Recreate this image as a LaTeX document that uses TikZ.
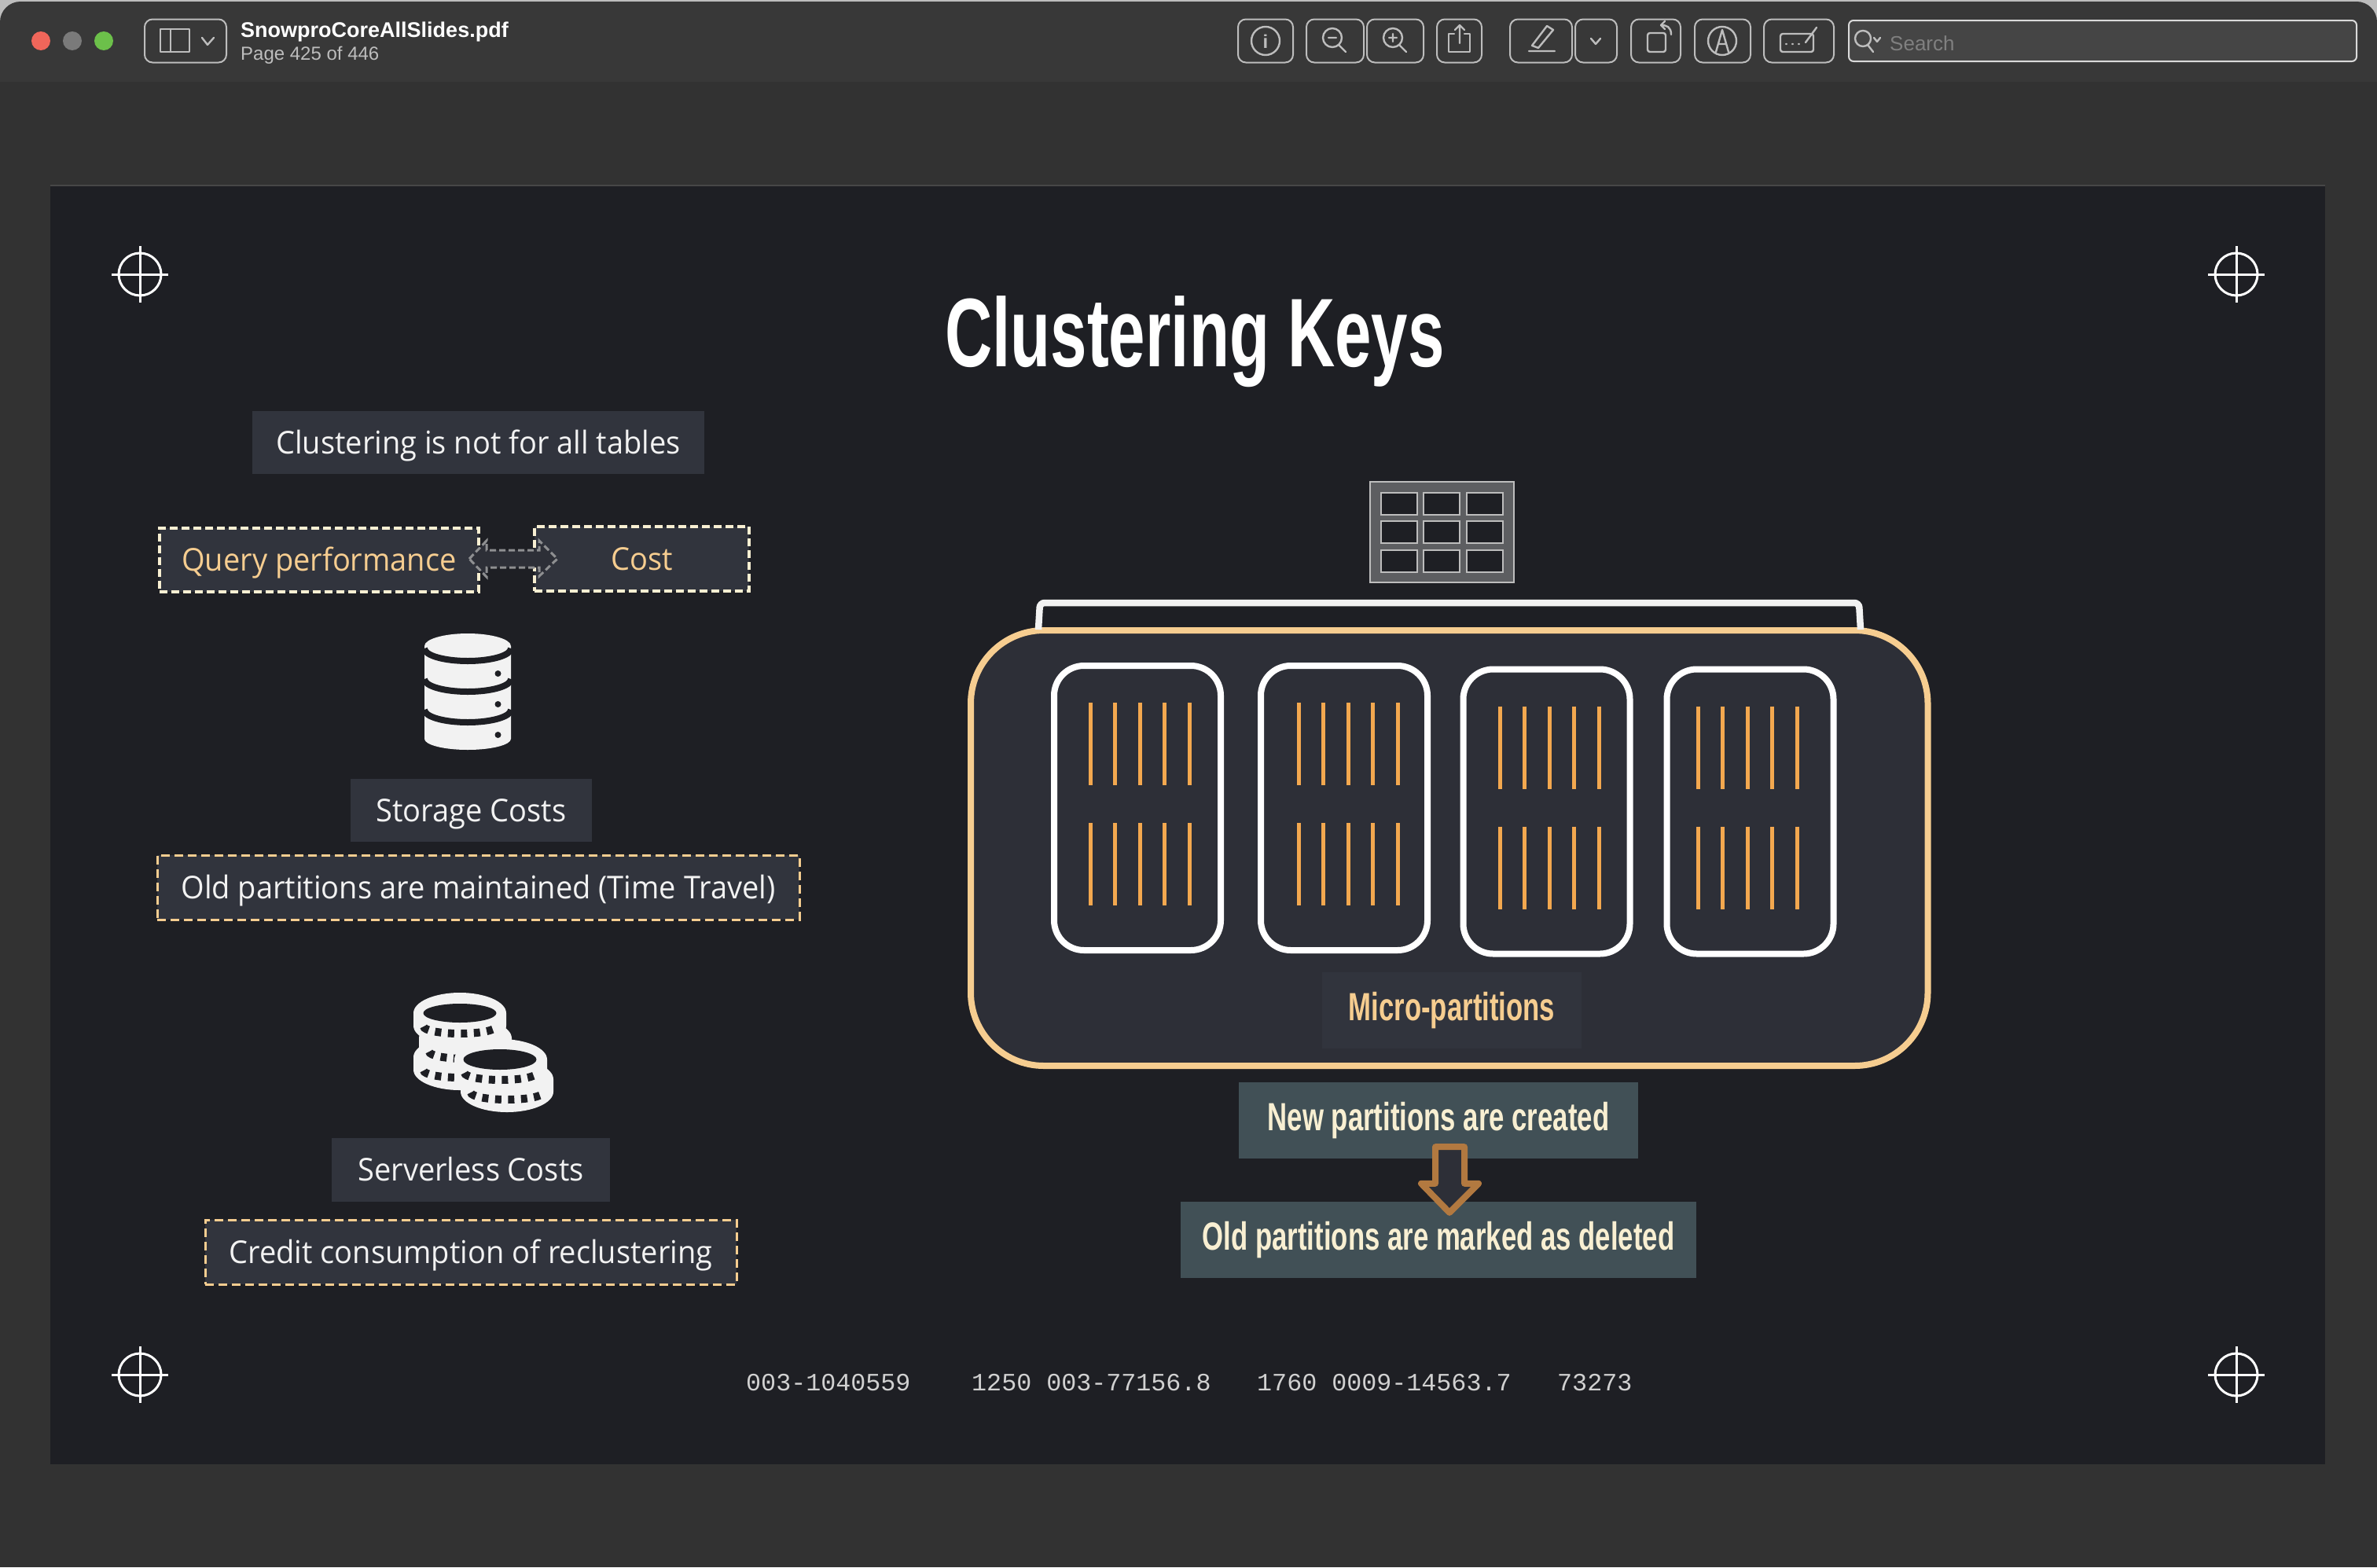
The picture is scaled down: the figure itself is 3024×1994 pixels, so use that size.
\documentclass[tikz,border=0pt]{standalone}
\usepackage{fontspec}
\usetikzlibrary{calc}
\setmainfont{Liberation Sans}
\newfontfamily\bodyfont[FakeStretch=0.95]{Open Sans}
\newfontfamily\displayfont[FakeStretch=0.695]{Liberation Sans}
\newfontfamily\titlefont[FakeStretch=0.673]{Liberation Sans}
\newfontfamily\codefont{Liberation Mono}
\definecolor{windowbar}{HTML}{383838}
\definecolor{windowbg}{HTML}{323232}
\definecolor{slidebg}{HTML}{1E1F24}
\definecolor{labelbg}{HTML}{31343D}
\definecolor{holderbg}{HTML}{2D2F37}
\definecolor{notebg}{HTML}{415056}
\definecolor{peach}{HTML}{F6CD90}
\definecolor{cream}{HTML}{F8EFD2}
\definecolor{barorange}{HTML}{F3A84F}
\definecolor{iconwhite}{HTML}{F2F2F2}
\definecolor{toolline}{HTML}{BDBDBD}
\definecolor{lightred}{HTML}{F0665A}
\definecolor{lightgray}{HTML}{7A7A7A}
\definecolor{lightgreen}{HTML}{6CC04A}
\tikzset{
  bodylabel/.style={inner sep=0pt,fill=labelbg,font=\bodyfont\fontsize{40}{44}\selectfont,text height=36pt,text depth=8pt,text=iconwhite,align=center},
  choicebox/.style={bodylabel,text=peach,draw=cream,line width=4pt,dash pattern=on 10pt off 5pt},
  notebox/.style={bodylabel,draw=peach,line width=3pt,dash pattern=on 11pt off 6pt},
  notelabel/.style={inner sep=0pt,fill=notebg,text=cream,font=\displayfont\bfseries\fontsize{50}{54}\selectfont,text height=34pt,text depth=8pt},
  holder/.style={draw=peach,fill=holderbg,line width=8pt,rounded corners=93pt},
  partbox/.style={draw=white,fill=holderbg,line width=8pt,rounded corners=38pt,minimum width=212pt,minimum height=362pt},
  partline/.style={barorange,line width=5pt},
  tablecell/.style={draw=toolline,fill=slidebg,line width=2.5pt},
  crosshair/.style={white,line width=3pt},
  toolbtn/.style={draw=toolline,line width=2pt,rounded corners=10pt,minimum height=55pt},
  toolicon/.style={toolline,line width=2.4pt,line cap=round,line join=round},
  coderow/.style={inner sep=0pt,anchor=west,text=white!82!black,font=\codefont\fontsize{31.7}{36}\selectfont}
}
\newcommand{\targetmark}[2]{%
  \draw[crosshair] (#1,#2) circle[radius=27pt];
  \draw[crosshair] (#1-36,#2) -- (#1+36,#2);
  \draw[crosshair] (#1,#2-36) -- (#1,#2+36);
}
\newcommand{\coinpiece}[2]{%
  \begin{scope}[shift={(#1,#2)}]
    \fill[iconwhite] (-59,0) arc[start angle=180,end angle=0,x radius=59pt,y radius=26pt] -- (59,16) arc[start angle=0,end angle=-180,x radius=59pt,y radius=26pt] -- cycle;
    \draw[slidebg,line width=10pt,dash pattern=on 8pt off 8.5pt] (-46,17) arc[start angle=180,end angle=360,x radius=46pt,y radius=9pt];
  \end{scope}
}
\begin{document}
\begin{tikzpicture}[x=1pt,y=-1pt]
\useasboundingbox (0,0) rectangle (3024,1994);
%Window
\fill[windowbg] (0,0) rectangle (3024,1994);
\fill[toolline] (0,0) rectangle (3024,3);
\fill[toolline] (0,0) rectangle (30,30);
\fill[toolline] (2994,0) rectangle (3024,30);
\fill[windowbar,rounded corners=26pt] (0,104) -- (0,2) -- (3024,2) -- (3024,104) -- cycle;
\fill[windowbar] (0,60) rectangle (3024,104);
\fill[lightred] (52,52) circle[radius=12pt];
\fill[lightgray] (92,52) circle[radius=12pt];
\fill[lightgreen] (132,52) circle[radius=12pt];
%Toolbar, left
\node[toolbtn,minimum width=104pt] (sidebtn) at (236,52) {};
\draw[toolicon] (204,37) rectangle (241,66);
\draw[toolicon] (217,37) -- (217,66);
\draw[toolicon] (257,48) -- (264,57) -- (272,48);
\node[inner sep=0pt,anchor=west,text=white,font=\bfseries\fontsize{27}{30}\selectfont] (filename) at (306,41) {SnowproCoreAllSlides.pdf};
\node[inner sep=0pt,anchor=west,text=toolline,font=\fontsize{24}{26}\selectfont] (pagecount) at (306,70) {Page 425 of 446};
%Toolbar, right
\node[toolbtn,minimum width=70pt] (infobtn) at (1610,52) {};
\node[toolbtn,minimum width=73pt] (zoomoutbtn) at (1698.5,52) {};
\node[toolbtn,minimum width=72pt] (zoominbtn) at (1775,52) {};
\node[toolbtn,minimum width=57pt] (sharebtn) at (1856.5,52) {};
\node[toolbtn,minimum width=79pt] (penbtn) at (1960.5,52) {};
\node[toolbtn,minimum width=53pt] (penmenubtn) at (2030.5,52) {};
\node[toolbtn,minimum width=63pt] (rotatebtn) at (2106.5,52) {};
\node[toolbtn,minimum width=71pt] (markupbtn) at (2191.5,52) {};
\node[toolbtn,minimum width=89pt] (formbtn) at (2288.5,52) {};
\node[draw=iconwhite!90!black,fill=white!27!black,line width=2pt,rounded corners=6pt,minimum width=646pt,minimum height=52pt] (searchbox) at (2675,52) {};
\node[inner sep=0pt,anchor=west,text=white!50!black,font=\fontsize{26}{28}\selectfont] (searchtext) at (2404,55) {Search};
%Toolbar icons
\draw[toolicon] (1610,52) circle[radius=18pt];
\node[inner sep=0pt,text=toolline,font=\bfseries\fontsize{24}{26}\selectfont] (infoglyph) at (1610,53) {i};
\draw[toolicon] (1695,48) circle[radius=12pt] (1703,57) -- (1712,66) (1690,48) -- (1700,48);
\draw[toolicon] (1772,48) circle[radius=12pt] (1780,57) -- (1789,66) (1767,48) -- (1777,48) (1772,43) -- (1772,53);
\draw[toolicon] (1850,43) -- (1843,43) -- (1843,66) -- (1870,66) -- (1870,43) -- (1863,43);
\draw[toolicon] (1857,55) -- (1857,32) (1851,38) -- (1857,32) -- (1863,38);
\draw[toolicon] (1949,58) -- (1968,33) -- (1976,38) -- (1957,61) -- cycle (1945,65) -- (1978,65);
\draw[toolicon] (2024,49) -- (2030,56) -- (2036,49);
\draw[toolicon,rounded corners=3pt] (2096,42) rectangle (2119,66);
\draw[toolicon] (2126,44) .. controls (2126,34) and (2120,32) .. (2113,32) (2118,27) -- (2113,32) -- (2118,37);
\draw[toolicon] (2191,52) circle[radius=18pt] (2183,66) -- (2191,38) -- (2199,66) (2186,56) -- (2196,56);
\draw[toolicon,rounded corners=3pt] (2265,43) rectangle (2307,66);
\draw[toolicon] (2272,56) -- (2273,56) (2280,56) -- (2281,56) (2288,56) -- (2289,56) (2297,54) -- (2311,35);
\draw[toolicon] (2370,49) circle[radius=10pt] (2376,57) -- (2383,66) (2384,48) -- (2388,53) -- (2392,48);
%Slide
\fill[slidebg] (64,235) rectangle (2958,1863);
\draw[white!28!black,line width=2pt] (64,236) -- (2958,236);
\targetmark{178}{349}
\targetmark{2845}{349}
\targetmark{178}{1749}
\targetmark{2845}{1749}
\node[inner sep=0pt,text=white,font=\titlefont\bfseries\fontsize{124}{130}\selectfont,text height=89pt,text depth=0pt] (title) at (1520,421.5) {Clustering Keys};
%Left column
\node[bodylabel,minimum width=575pt,minimum height=80pt] (notall) at (608.5,563) {Clustering is not for all tables};
\node[choicebox,minimum width=406pt,minimum height=81pt] (query) at (406,712.5) {Query performance};
\node[choicebox,minimum width=273pt,minimum height=82pt] (cost) at (816.5,711) {Cost};
%Trade-off arrow
\coordinate (tradeL) at ($(query.east)+(-14,-1.5)$);
\coordinate (tradeR) at ($(cost.west)+(31,0)$);
\draw[fill=holderbg,draw=white!50!slidebg,line width=3pt,dash pattern=on 8pt off 4pt]
  (tradeL) -- ++(22,-23) -- ++(0,12) -- ($(tradeR)+(-23,-11)$) -- ++(0,-12) -- (tradeR) -- ++(-23,22) -- ++(0,-11) -- ($(tradeL)+(22,11)$) -- ++(0,12) -- cycle;
%Storage icon
\fill[iconwhite] (540,822) arc[start angle=180,end angle=0,x radius=55pt,y radius=16pt] -- (650,940) arc[start angle=0,end angle=-180,x radius=55pt,y radius=14pt] -- cycle;
\foreach \y in {825,864,903}
  \draw[slidebg,line width=8pt] (540,\y) arc[start angle=180,end angle=360,x radius=55pt,y radius=16pt];
\foreach \y in {857,896,935}
  \fill[slidebg] (633.5,\y) circle[radius=4pt];
\node[bodylabel,minimum width=307pt,minimum height=80pt] (storage) at (599.5,1031) {Storage Costs};
\node[notebox,minimum width=817pt,minimum height=82pt] (oldkept) at (608.5,1129) {Old partitions are maintained (Time Travel)};
%Coins icon
\coinpiece{585}{1345}
\coinpiece{592}{1321}
\coinpiece{585}{1289}
\coinpiece{645}{1373}
\coinpiece{637}{1348}
\fill[slidebg] (585,1289) ellipse[x radius=46.5pt,y radius=12pt];
\fill[slidebg] (636,1348) ellipse[x radius=46.5pt,y radius=13pt];
\node[bodylabel,minimum width=354pt,minimum height=81pt] (serverless) at (599,1488.5) {Serverless Costs};
\node[notebox,minimum width=676pt,minimum height=82pt] (credit) at (599,1593) {Credit consumption of reclustering};
%Table icon
\draw[fill=white!28!slidebg,draw=toolline,line width=2.5pt] (1743,613) rectangle (1926,741);
\foreach \x in {1757,1811,1866}
  \foreach \y in {627,663,700}
    \draw[tablecell] (\x,\y) rectangle ++(46,28);
%Micro-partitions
\draw[holder] (1235,802) rectangle (2452.5,1356);
\draw[iconwhite,line width=8.5pt,rounded corners=6pt] (1321,801) -- (1323,767) -- (2365,767) -- (2367,801);
\foreach \px/\py/\lx/\n in {1447/1028/1450/1,1710/1028/1715/2,1967.5/1032.5/1971/3,2226.5/1032.5/2223/4} {
  \node[partbox] (part\n) at (\px,\py) {};
  \foreach \dx in {-63,-31.5,0,31.5,63} {
    \draw[partline] (\lx+\dx,\py-134) -- ++(0,105);
    \draw[partline] (\lx+\dx,\py+19) -- ++(0,105);
  }
}
\node[inner sep=0pt,fill=labelbg,text=peach,font=\displayfont\bfseries\fontsize{50}{54}\selectfont,text height=34pt,text depth=8pt,minimum width=330pt,minimum height=97pt] (microlabel) at (1847,1285.5) {Micro-partitions};
\node[notelabel,minimum width=508pt,minimum height=97pt] (newparts) at (1830,1425.5) {New partitions are created};
\node[notelabel,minimum width=656pt,minimum height=97pt] (oldparts) at (1830,1577.5) {Old partitions are marked as deleted};
%Block arrow
\coordinate (arrowtip) at ($(oldparts.north)+(14,14)$);
\draw[fill=holderbg,draw=orange!60!black!75!white,line width=8pt,line join=round]
  (arrowtip) -- ++(-36,-37) -- ++(18,0) -- ($(newparts.south)+(-4,-15)$) -- ($(newparts.south)+(33,-15)$) -- ($(arrowtip)+(19,-37)$) -- ++(18,0) -- cycle;
%Footer
\node[coderow] (codeA) at (949,1759) {003-1040559};
\node[coderow] (codeB) at (1236,1759) {1250 003-77156.8};
\node[coderow] (codeC) at (1599,1759) {1760 0009-14563.7};
\node[coderow] (codeD) at (1981,1759) {73273};
\end{tikzpicture}
\end{document}
